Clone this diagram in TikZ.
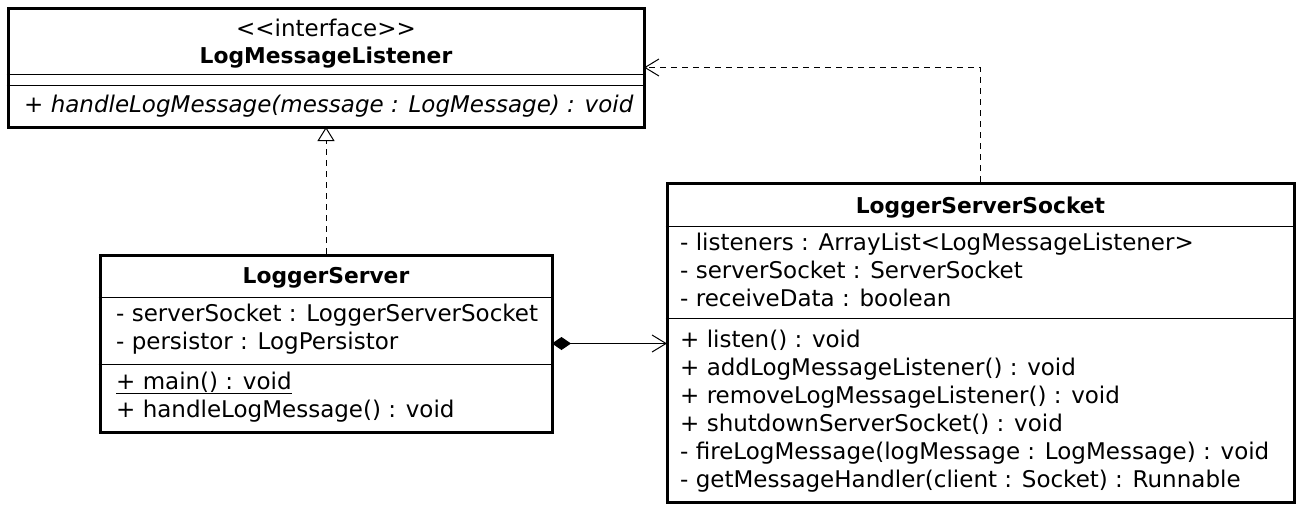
\documentclass[tikz,border=0pt]{standalone}
\usepackage{fontspec}
\setmainfont{DejaVu Sans}
\usetikzlibrary{arrows.meta}
\begin{document}
\begin{tikzpicture}[x=1pt,y=-1pt,
  classbox/.style={draw=black, line width=3pt, fill=white, rectangle, inner sep=0pt},
  txt/.style={anchor=base west, inner sep=0pt, font=\fontsize{23}{28}\selectfont},
  ctxt/.style={anchor=base, inner sep=0pt, font=\fontsize{23}{28}\selectfont},
  ttl/.style={anchor=base, inner sep=0pt, font=\fontsize{21.8}{28}\selectfont\bfseries},
  sepline/.style={line width=1pt},
  conn/.style={line width=1pt, dash pattern=on 6pt off 5pt},
  opentip/.style={-{Straight Barb[length=14pt,width=17pt]}},
]
\fill[white] (0,0) rectangle (1302,512);
\useasboundingbox (0,0) rectangle (1302,512);

% ---- LogMessageListener
\node[classbox, minimum width=636pt, minimum height=119pt] (lml) at (326,67.5) {};
\node[ctxt] (lmlster) at (326,36) {<{}<interface>{}>};
\node[ttl] (lmlname) at (326,63) {LogMessageListener};
\draw[sepline] (lml.west |- 0,74) -- (lml.east |- 0,74);
\draw[sepline] (lml.west |- 0,85) -- (lml.east |- 0,85);
\node[txt, font=\fontsize{23}{28}\selectfont\itshape] (lmlm1) at (24,112) {+ handleLogMessage(message : LogMessage) : void};

% ---- LoggerServer
\node[classbox, minimum width=452pt, minimum height=177pt] (ls) at (326,343.5) {};
\node[ttl] (lsname) at (326,283) {LoggerServer};
\draw[sepline] (ls.west |- 0,297) -- (ls.east |- 0,297);
\node[txt] (lsa1) at (116,321) {- serverSocket : LoggerServerSocket};
\node[txt] (lsa2) at (116,349) {- persistor : LogPersistor};
\draw[sepline] (ls.west |- 0,364) -- (ls.east |- 0,364);
\node[txt] (lsm1) at (116,389) {\underline{+ main() : void}};
\node[txt] (lsm2) at (116,417) {+ handleLogMessage() : void};

% ---- LoggerServerSocket
\node[classbox, minimum width=627pt, minimum height=319pt] (lss) at (980.5,342.5) {};
\node[ttl] (lssname) at (980.5,213) {LoggerServerSocket};
\draw[sepline] (lss.west |- 0,226) -- (lss.east |- 0,226);
\node[txt] (lssa1) at (680,250) {- listeners : ArrayList<LogMessageListener>};
\node[txt] (lssa2) at (680,278) {- serverSocket : ServerSocket};
\node[txt] (lssa3) at (680,306) {- receiveData : boolean};
\draw[sepline] (lss.west |- 0,318) -- (lss.east |- 0,318);
\node[txt] (lssm1) at (680,347) {+ listen() : void};
\node[txt] (lssm2) at (680,375) {+ addLogMessageListener() : void};
\node[txt] (lssm3) at (680,403) {+ removeLogMessageListener() : void};
\node[txt] (lssm4) at (680,431) {+ shutdownServerSocket() : void};
\node[txt] (lssm5) at (680,459) {- fireLogMessage(logMessage : LogMessage) : void};
\node[txt] (lssm6) at (680,487) {- getMessageHandler(client : Socket) : Runnable};

% ---- connectors
\draw[conn, -{Triangle[open, fill=white, length=14pt, width=17pt]}, shorten >=-1.5pt] (ls.north) -- (lml.south);
\draw[conn, opentip, shorten >=-1.5pt] (lss.north) |- (lml.east);
\draw[line width=1pt, {Diamond[fill=black, length=19pt, width=13pt]}-{Straight Barb[length=14pt,width=17pt]}, shorten <=-1.5pt, shorten >=-1.5pt] (ls.east) -- (ls.east -| lss.west);
\end{tikzpicture}
\end{document}
